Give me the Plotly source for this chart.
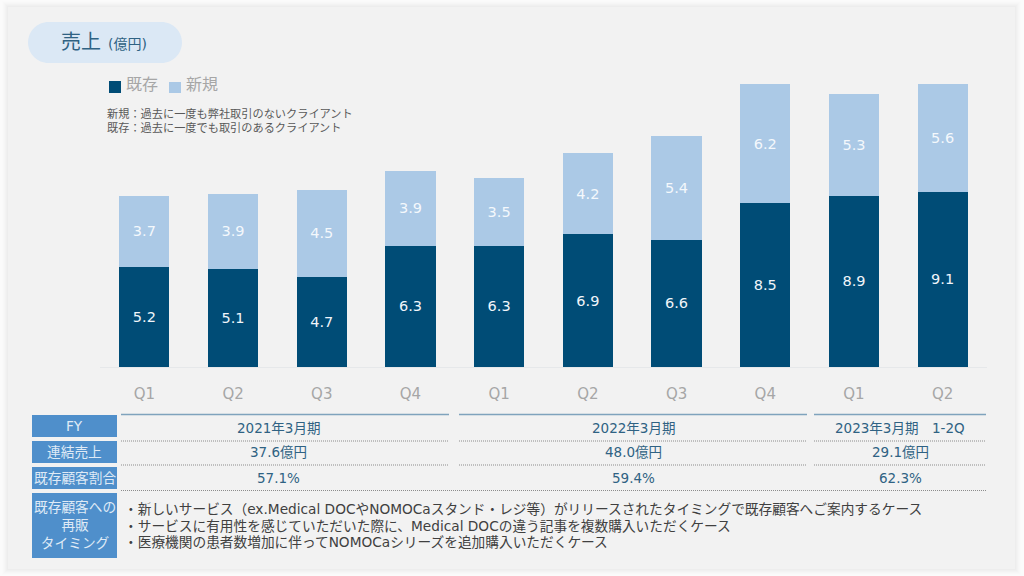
import plotly.graph_objects as go

# Data
QUARTERS = ["Q1", "Q2", "Q3", "Q4", "Q1", "Q2", "Q3", "Q4", "Q1", "Q2"]
EXISTING = [5.2, 5.1, 4.7, 6.3, 6.3, 6.9, 6.6, 8.5, 8.9, 9.1]
NEW = [3.7, 3.9, 4.5, 3.9, 3.5, 4.2, 5.4, 6.2, 5.3, 5.6]
ROW_HEADERS = ["FY", "連結売上", "既存顧客割合"]
FISCAL_YEARS = ["2021年3月期", "2022年3月期", "2023年3月期　1-2Q"]
SALES = ["37.6億円", "48.0億円", "29.1億円"]
SHARES = ["57.1%", "59.4%", "62.3%"]
NOTES = [
    "新規：過去に一度も弊社取引のないクライアント",
    "既存：過去に一度でも取引のあるクライアント",
]
BULLETS = [
    "・新しいサービス（ex.Medical DOCやNOMOCaスタンド・レジ等）がリリースされたタイミングで既存顧客へご案内するケース",
    "・サービスに有用性を感じていただいた際に、Medical DOCの違う記事を複数購入いただくケース",
    "・医療機関の患者数増加に伴ってNOMOCaシリーズを追加購入いただくケース",
]

W, H = 1024, 576
FONT = "DejaVu Sans, Noto Sans CJK JP, sans-serif"
DARK = "#004c76"
LIGHT = "#abc9e6"
HEADER = "#4f8fcb"
TABLE_TEXT = "#2f6283"


def px(x):
    return x / W


def py(y):
    return 1 - y / H


def rect(x0, y0, x1, y1, color, opacity=1):
    return dict(type="rect", xref="paper", yref="paper", x0=px(x0), x1=px(x1), y0=py(y1), y1=py(y0),
                fillcolor=color, opacity=opacity, line_width=0, layer="below")


def hline(x0, x1, y, color, width=1, dash="solid"):
    return dict(type="line", xref="paper", yref="paper", x0=px(x0), x1=px(x1), y0=py(y), y1=py(y),
                line=dict(color=color, width=width, dash=dash), layer="above")


def label(x, y, text, size=13.5, color=TABLE_TEXT, anchor="center"):
    return dict(xref="paper", yref="paper", x=px(x), y=py(y), text=text, showarrow=False,
                xanchor=anchor, yanchor="middle", font=dict(size=size, color=color, family=FONT))


def pill(x0, y0, x1, y1, color):
    r = (y1 - y0) / 2
    path = (
        f"M {px(x0 + r)} {py(y0)} L {px(x1 - r)} {py(y0)} "
        f"C {px(x1 - r * 0.45)} {py(y0)} {px(x1)} {py(y0 + r * 0.45)} {px(x1)} {py(y0 + r)} "
        f"C {px(x1)} {py(y1 - r * 0.45)} {px(x1 - r * 0.45)} {py(y1)} {px(x1 - r)} {py(y1)} "
        f"L {px(x0 + r)} {py(y1)} "
        f"C {px(x0 + r * 0.45)} {py(y1)} {px(x0)} {py(y1 - r * 0.45)} {px(x0)} {py(y0 + r)} "
        f"C {px(x0)} {py(y0 + r * 0.45)} {px(x0 + r * 0.45)} {py(y0)} {px(x0 + r)} {py(y0)} Z"
    )
    return dict(type="path", xref="paper", yref="paper", path=path, fillcolor=color, line_width=0, layer="below")


positions = list(range(len(QUARTERS)))

fig = go.Figure()
fig.add_trace(go.Bar(
    name="既存", x=positions, y=EXISTING, marker=dict(color=DARK, line_width=0), width=0.565,
    text=[f"{v:.1f}" for v in EXISTING], textposition="inside", insidetextanchor="middle",
    textangle=0, textfont=dict(color="#f0f5fa", size=14.5, family=FONT),
))
fig.add_trace(go.Bar(
    name="新規", x=positions, y=NEW, marker=dict(color=LIGHT, line_width=0), width=0.565,
    text=[f"{v:.1f}" for v in NEW], textposition="inside", insidetextanchor="middle",
    textangle=0, textfont=dict(color="#f4f8fc", size=14.5, family=FONT),
))

# card background with a soft shadow
shapes = [rect(0, 0, W, H, "#fbfbfb")]
for grow, alpha in [(6, 0.005), (5, 0.006), (4, 0.008), (3, 0.01), (2, 0.01), (1, 0.012)]:
    shapes.append(rect(8 - grow, 7 - grow, 1015 + grow, 569 + grow, "#000000", alpha))
shapes.append(rect(8, 7, 1015, 569, "#f2f2f2"))
shapes.append(pill(28, 22, 182, 63, "#dbe8f5"))

# legend swatches
shapes.append(rect(109, 81, 121, 93, DARK))
shapes.append(rect(169, 82, 181, 93, LIGHT))

annotations = [
    label(59, 42, "売上", size=20, color="#2f6283", anchor="left"),
    label(106, 44, "(億円)", size=14, color="#2f6283", anchor="left"),
    label(124, 84, "既存", size=16, color="#a6a6a6", anchor="left"),
    label(184, 84, "新規", size=16, color="#a6a6a6", anchor="left"),
    label(105, 114, NOTES[0], size=11.2, color="#595959", anchor="left"),
    label(105, 128, NOTES[1], size=11.2, color="#595959", anchor="left"),
]

# table
HEADER_ROWS = [(415, 437), (441, 463), (467, 489)]
for (y0, y1), text in zip(HEADER_ROWS, ROW_HEADERS):
    shapes.append(rect(32, y0, 117, y1, HEADER))
    annotations.append(label(74.5, (y0 + y1) / 2, text, size=13.7, color="#dfeaf6"))
shapes.append(rect(32, 493, 117, 558, HEADER))
annotations.append(label(74.5, 525, "既存顧客への<br>再販<br>タイミング", size=13.7, color="#dfeaf6"))

SPANS = [(121, 449), (459, 807), (814, 986)]
TEXT_CENTERS = [278, 633, 900]
for i, (x0, x1) in enumerate(SPANS):
    shapes.append(hline(x0, x1, 414.5, "#7fa3bd", 1.5))
    shapes.append(hline(x0, x1, 441, "#8c8c8c", 1, "1px,1px"))
    shapes.append(hline(x0, x1, 465, "#8c8c8c", 1, "1px,1px"))
    cx = TEXT_CENTERS[i]
    annotations.append(label(cx, 428, FISCAL_YEARS[i]))
    annotations.append(label(cx, 452, SALES[i]))
    annotations.append(label(cx, 478, SHARES[i]))
shapes.append(hline(121, 987, 490.5, "#8c8c8c", 1, "1px,1px"))

for y, text in zip([509, 525.5, 542], BULLETS):
    annotations.append(label(122, y, text, size=13.7, color="#404040", anchor="left"))

fig.update_layout(
    width=W, height=H, margin=dict(l=0, r=0, t=0, b=0),
    barmode="stack", showlegend=False,
    paper_bgcolor="#fbfbfb", plot_bgcolor="rgba(0,0,0,0)",
    font=dict(family=FONT),
    shapes=shapes, annotations=annotations,
    xaxis=dict(
        domain=[px(100), px(987)], range=[-0.5, 9.5],
        tickmode="array", tickvals=positions, ticktext=QUARTERS,
        tickfont=dict(size=15, color="#a6a6a6", family=FONT),
        ticklen=0, ticks="outside", ticklabelstandoff=13,
        showgrid=False, zeroline=False, showline=True, linecolor="#e6e8ea", linewidth=1,
    ),
    yaxis=dict(
        domain=[py(367), py(59)], range=[0, 16],
        showticklabels=False, showgrid=False, zeroline=False, showline=False, ticks="",
    ),
)

# the page's default body margin would shift the figure by 8px
fig.write_html("out.html", config={"displayModeBar": False}, post_script="document.body.style.margin='0';")
